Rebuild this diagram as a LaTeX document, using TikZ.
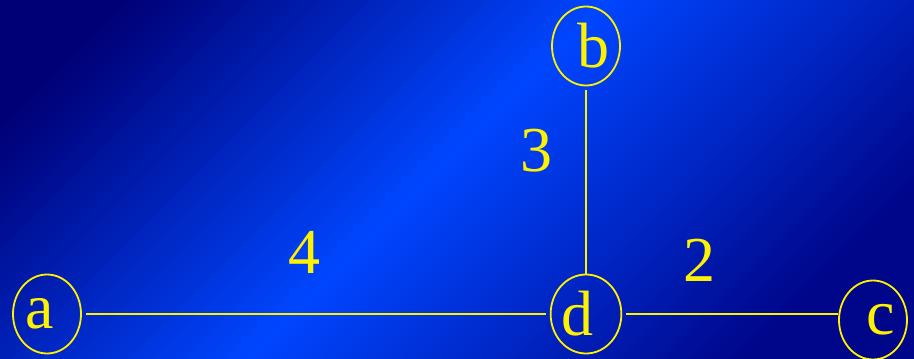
\documentclass[tikz,border=0pt]{standalone}
\usepackage{fontspec}
\setmainfont{Liberation Serif}
\usetikzlibrary{shapes.geometric}
\definecolor{bgdark}{RGB}{0,0,118}
\definecolor{bgbright}{RGB}{0,70,255}
\definecolor{bgend}{RGB}{0,6,138}
\tikzset{
  vertex/.style={ellipse,draw=yellow,line width=1.8pt,minimum width=68,minimum height=79,inner sep=0pt,text=yellow,font=\fontsize{64}{64}\selectfont},
  edge/.style={yellow,line width=1.8pt},
  weight/.style={text=yellow,font=\fontsize{64}{64}\selectfont,inner sep=0pt}
}
\begin{document}
\begin{tikzpicture}[x=1pt,y=-1pt]
\useasboundingbox (0,0) rectangle (914,359);
% background
\begin{scope}
\clip (0,0) rectangle (914,359);
\foreach \s in {0,10,...,1270}{
  \ifnum\s<600
    \pgfmathtruncatemacro{\p}{max(0,min(100,(\s-120)/4.8))}
    \colorlet{strip}{bgbright!\p!bgdark}
  \else
    \pgfmathtruncatemacro{\p}{max(0,min(100,(1100-\s)/5))}
    \colorlet{strip}{bgbright!\p!bgend}
  \fi
  \fill[strip] (\s,0) -- (\s+11,0) -- (\s-348,359) -- (\s-359,359) -- cycle;
}
\end{scope}
% vertices
\node[vertex] (a) at (47,314) {a\hspace*{14pt}};
\node[vertex] (b) at (586,46) {\hspace*{14pt}b};
\node[vertex] (d) at (586,314) {d\hspace*{18pt}};
\node[vertex] (c) at (873,320) {\hspace*{16pt}c};
% edges
\draw[edge,shorten <=4pt,shorten >=4pt] (a) -- (d);
\draw[edge,shorten <=4pt] (b) -- (d);
\draw[edge,shorten <=4pt] (d) -- (d -| c.west);
% weights
\node[weight] (w4) at (304,252) {4};
\node[weight] (w3) at (536,151) {3};
\node[weight] (w2) at (699,260) {2};
\end{tikzpicture}
\end{document}
